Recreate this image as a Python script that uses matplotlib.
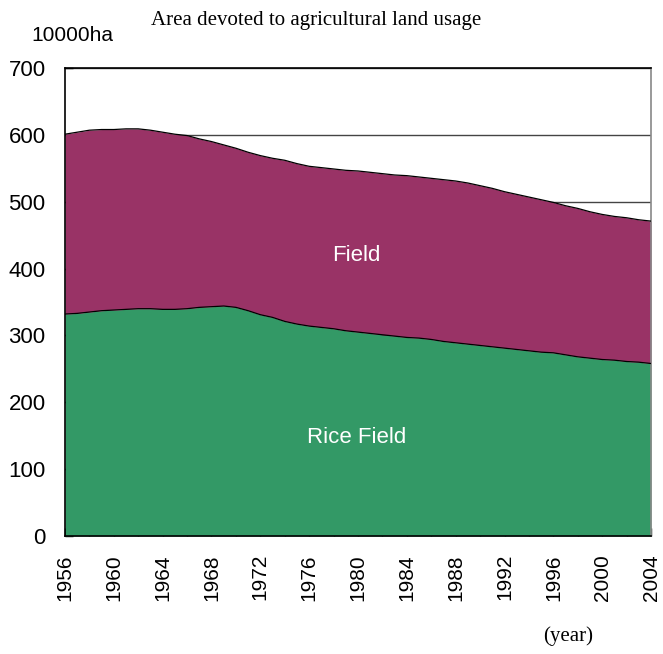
import numpy as np
import matplotlib
matplotlib.use("Agg")
import matplotlib.pyplot as plt

# Data (unit: 10000 ha)
years = np.arange(1956, 2005)
total_area = [601, 604, 607, 608, 608, 609, 609, 607, 604, 601,
              599, 594, 590, 585, 580, 574, 569, 565, 562, 557,
              553, 551, 549, 547, 546, 544, 542, 540, 539, 537,
              535, 533, 531, 528, 524, 520, 515, 511, 507, 503,
              499, 494, 490, 485, 481, 478, 476, 473, 471]
rice_field = [332, 333, 335, 337, 338, 339, 340, 340, 339, 339,
              340, 342, 343, 344, 342, 337, 331, 327, 321, 317,
              314, 312, 310, 307, 305, 303, 301, 299, 297, 296,
              294, 291, 289, 287, 285, 283, 281, 279, 277, 275,
              274, 271, 268, 266, 264, 263, 261, 260, 258]
year_ticks = np.arange(1956, 2005, 4)
y_ticks = np.arange(0, 701, 100)

sans = ["Liberation Sans", "DejaVu Sans"]
serif = ["Liberation Serif", "DejaVu Serif"]

fig = plt.figure(figsize=(6.63, 6.54), dpi=100)
ax = fig.add_axes([0.098, 0.1804, 0.884, 0.7156])

# grid sits under the fills
ax.set_axisbelow(True)
ax.yaxis.grid(True, color="#444444", linewidth=1.0)

ax.fill_between(years, 0, rice_field, color="#339966", linewidth=0, zorder=2)
ax.fill_between(years, rice_field, total_area, color="#993366", linewidth=0, zorder=2)
ax.plot(years, rice_field, color="black", linewidth=0.9, zorder=3)
ax.plot(years, total_area, color="black", linewidth=0.9, zorder=3)

ax.set_xlim(1956, 2004)
ax.set_ylim(0, 700)

ax.set_xticks(year_ticks)
ax.set_xticks(np.arange(1956, 2005, 2), minor=True)
ax.set_xticklabels([str(y) for y in year_ticks], rotation=90,
                   fontsize=15, family=sans)
ax.set_yticks(y_ticks)
ax.set_yticklabels([str(v) for v in y_ticks], fontsize=16, family=sans)

ax.tick_params(axis="x", which="both", direction="in", length=6, width=1,
               top=False, pad=13)
ax.tick_params(axis="y", direction="in", length=6, width=1, right=False, pad=14)

for side in ["left", "bottom", "top"]:
    ax.spines[side].set_color("black")
    ax.spines[side].set_linewidth(1.2)
ax.spines["right"].set_color("#888888")
ax.spines["right"].set_linewidth(1.2)

# labels inside the areas
ax.text(1979.9, 420, "Field", color="white", fontsize=16, ha="center",
        va="center", family=sans, zorder=4)
ax.text(1979.9, 148, "Rice Field", color="white", fontsize=16, ha="center",
        va="center", family=sans, zorder=4)

fig.text(0.477, 0.968, "Area devoted to agricultural land usage",
         fontsize=15, ha="center", va="center", family=serif)
fig.text(0.048, 0.945, "10000ha", fontsize=15, ha="left", va="center",
         family=sans)
fig.text(0.857, 0.027, "(year)", fontsize=15, ha="center", va="center",
         family=serif)

fig.savefig("out.png", dpi=100)
plt.close(fig)
